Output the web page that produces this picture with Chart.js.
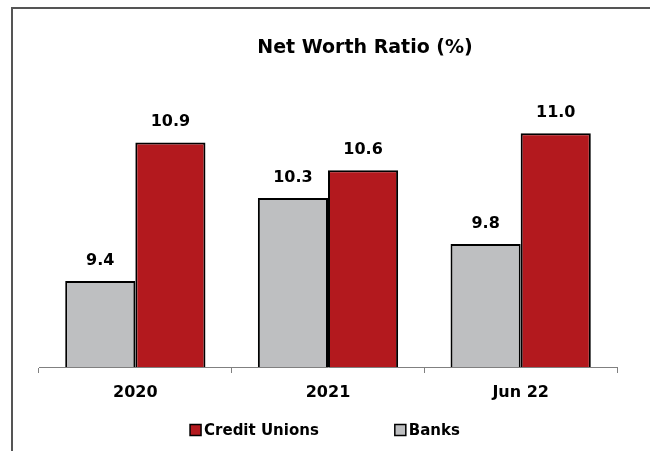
<!DOCTYPE html>
<html>
<head>
<meta charset="utf-8">
<script src="https://cdn.jsdelivr.net/npm/chart.js@4.4.1/dist/chart.umd.min.js"></script>
<style>
  html, body { margin: 0; padding: 0; background: #ffffff; }
  #wrap { position: relative; width: 650px; height: 451px; overflow: hidden; }
  #frame {
    position: absolute; left: 11px; top: 7px; right: -4px; bottom: -4px;
    border-left: 2px solid #555555; border-top: 2px solid #555555;
    pointer-events: none;
  }
  canvas { position: absolute; left: 0; top: 0; }
</style>
</head>
<body>
<div id="wrap">
  <canvas id="chart" width="650" height="451"></canvas>
  <div id="frame"></div>
</div>
<script>
// Net worth ratio by period, in percent
const categories = ['2020', '2021', 'Jun 22'];
const banks = [9.4, 10.3, 9.8];
const creditUnions = [10.9, 10.6, 11.0];
const chartTitle = 'Net Worth Ratio (%)';

const FONT = '"DejaVu Sans", sans-serif';
const RED = '#B3191E';
const GREY = '#BEBFC1';

// Value labels above each bar
const valueLabels = {
  id: 'valueLabels',
  afterDatasetsDraw(chart) {
    const ctx = chart.ctx;
    ctx.save();
    ctx.font = 'bold 16px ' + FONT;
    ctx.fillStyle = '#000000';
    ctx.textAlign = 'center';
    ctx.textBaseline = 'alphabetic';
    chart.data.datasets.forEach((ds, i) => {
      const meta = chart.getDatasetMeta(i);
      meta.data.forEach((bar, j) => {
        ctx.fillText(ds.data[j].toFixed(1), bar.x, bar.y - 16);
      });
    });
    ctx.restore();
  }
};

// Title and legend row
const decorations = {
  id: 'decorations',
  afterDraw(chart) {
    const ctx = chart.ctx;
    ctx.save();
    ctx.fillStyle = '#000000';
    ctx.textAlign = 'center';
    ctx.textBaseline = 'middle';
    ctx.font = 'bold 19px ' + FONT;
    ctx.fillText(chartTitle, 365, 48);

    // legend: Credit Unions first, then Banks
    ctx.font = 'bold 15px ' + FONT;
    const items = chart.data.datasets.slice().reverse();
    const box = 11, boxGap = 3, itemGap = 76;
    const widths = items.map(ds => box + boxGap + ctx.measureText(ds.label).width);
    const total = widths.reduce((a, b) => a + b, 0) + itemGap * (items.length - 1);
    let x = 325 - total / 2;
    const y = 430;
    ctx.textAlign = 'left';
    items.forEach((ds, k) => {
      ctx.fillStyle = ds.backgroundColor;
      ctx.fillRect(x, y - box / 2, box, box);
      ctx.strokeStyle = '#000000';
      ctx.lineWidth = 1.5;
      ctx.strokeRect(x, y - box / 2, box, box);
      ctx.fillStyle = '#000000';
      ctx.fillText(ds.label, x + box + boxGap, y + 1);
      x += widths[k] + itemGap;
    });
    ctx.restore();
  }
};

new Chart(document.getElementById('chart'), {
  type: 'bar',
  data: {
    labels: categories,
    datasets: [
      {
        label: 'Banks',
        data: banks,
        backgroundColor: GREY,
        borderColor: '#000000',
        borderWidth: 2,
        borderSkipped: false,
        categoryPercentage: 0.728,
        barPercentage: 1.0
      },
      {
        label: 'Credit Unions',
        data: creditUnions,
        backgroundColor: RED,
        borderColor: '#000000',
        borderWidth: 2,
        borderSkipped: false,
        categoryPercentage: 0.728,
        barPercentage: 1.0
      }
    ]
  },
  options: {
    responsive: false,
    animation: false,
    devicePixelRatio: 1,
    layout: { padding: { left: 39, right: 33, top: 100, bottom: 0 } },
    plugins: {
      legend: { display: false },
      title: { display: false },
      tooltip: { enabled: false }
    },
    scales: {
      x: {
        offset: true,
        afterFit(scale) { scale.height = 84; },
        grid: {
          display: true,
          drawOnChartArea: false,
          drawTicks: true,
          tickLength: 6,
          color: '#808080',
          lineWidth: 1
        },
        border: { display: true, color: '#808080', width: 1 },
        ticks: {
          color: '#000000',
          padding: 10,
          font: { family: FONT, size: 16, weight: 'bold' }
        }
      },
      y: {
        display: false,
        min: 8.47,
        max: 11.36
      }
    }
  },
  plugins: [valueLabels, decorations]
});
</script>
</body>
</html>
